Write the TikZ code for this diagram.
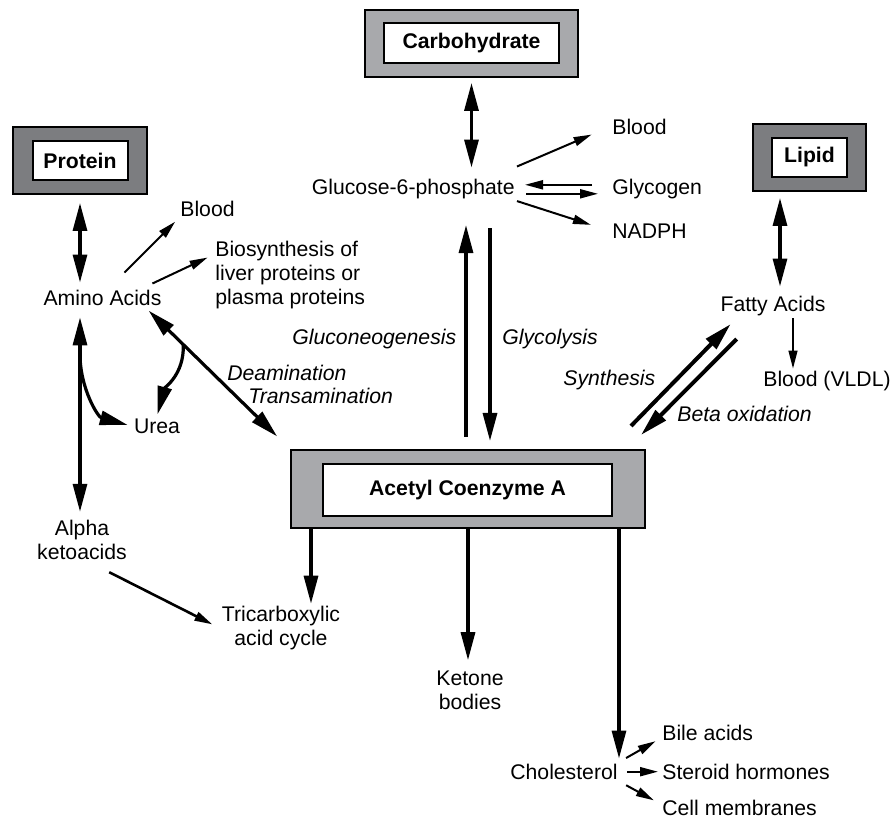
\documentclass[tikz,border=0pt]{standalone}
\usepackage{fontspec}
\setmainfont{Liberation Sans}
\usetikzlibrary{arrows.meta,positioning}

\definecolor{darkshade}{HTML}{7C7D80}
\definecolor{lightshade}{HTML}{A8A9AC}

\begin{document}
\begin{tikzpicture}[
    x=0.5pt, y=-0.5pt,
    lbl/.style={inner sep=1pt, font=\fontsize{10.6}{12}\selectfont},
    via/.style={inner sep=1pt, font=\fontsize{10.6}{12}\selectfont\itshape},
    outerbox/.style={draw, line width=1pt, inner sep=0pt},
    innerbox/.style={draw, fill=white, line width=1pt, inner sep=0pt,
      font=\fontsize{10.6}{12}\selectfont\bfseries},
    thickarrow/.style={line width=1.6pt, -{Triangle[length=14pt,width=7pt]}},
    twoway/.style={line width=1.6pt,
      {Triangle[length=14pt,width=7pt]}-{Triangle[length=14pt,width=7pt]}},
    thinarrow/.style={line width=1pt, -{Triangle[length=9pt,width=4.5pt]}}
  ]
  \useasboundingbox (0,0) rectangle (891,822);

  % framed boxes
  \node[outerbox, fill=lightshade, minimum width=106.5pt, minimum height=33.5pt] (carb) at (471.5,43.5) {};
  \node[innerbox, minimum width=87.5pt, minimum height=20pt] (carbin) at (carb) {Carbohydrate};
  \node[outerbox, fill=darkshade, minimum width=67pt, minimum height=33.5pt] (protein) at (80,160.5) {};
  \node[innerbox, minimum width=47.5pt, minimum height=19.5pt] (proteinin) at (protein) {Protein};
  \node[outerbox, fill=darkshade, minimum width=56.5pt, minimum height=33.5pt] (lipid) at (809.5,157.5) {};
  \node[innerbox, minimum width=37.5pt, minimum height=19.5pt] (lipidin) at (lipid) {Lipid};
  \node[outerbox, fill=lightshade, minimum width=177pt, minimum height=39pt] (acetyl) at (468,489) {};
  \node[innerbox, minimum width=144.5pt, minimum height=26pt] (acetylin) at (467.5,490) {Acetyl Coenzyme A};

  % metabolites
  \node[lbl, anchor=mid east] (g6p) at (517,189) {Glucose-6-phosphate};
  \node[lbl, anchor=mid west] (bloodc) at (610,129) {Blood};
  \node[lbl, anchor=mid west] (glycogen) at (610,189) {Glycogen};
  \node[lbl, anchor=mid west] (nadph) at (610,233) {NADPH};
  \node[lbl, anchor=mid] (amino) at (102.5,300) {Amino Acids};
  \node[lbl, anchor=mid west] (bloodp) at (178,211) {Blood};
  \node[lbl, anchor=west, align=left] (biosyn) at (213,275) {Biosynthesis of\\liver proteins or\\plasma proteins};
  \node[lbl, anchor=mid] (urea) at (157,428) {Urea};
  \node[lbl, align=center] (alpha) at (82,540) {Alpha\\ketoacids};
  \node[lbl, align=center] (tca) at (281,628) {Tricarboxylic\\acid cycle};
  \node[lbl, align=center] (ketone) at (470,690) {Ketone\\bodies};
  \node[lbl, anchor=mid east] (chol) at (620,774) {Cholesterol};
  \node[lbl, anchor=mid west] (bile) at (660,735) {Bile acids};
  \node[lbl, anchor=mid west] (steroid) at (660,774) {Steroid hormones};
  \node[lbl, anchor=mid west] (cellm) at (660,810) {Cell membranes};
  \node[lbl, anchor=mid] (fatty) at (773,306) {Fatty Acids};
  \node[lbl, anchor=mid west] (vldl) at (761,381) {Blood (VLDL)};

  % pathway names
  \node[via, anchor=mid west] (gng) at (290,339) {Gluconeogenesis};
  \node[via, anchor=mid west] (glyc) at (500,339) {Glycolysis};
  \node[via, anchor=mid west] (deam) at (225,375) {Deamination};
  \node[via, anchor=mid west] (transam) at (246,398) {Transamination};
  \node[via, anchor=mid west] (synth) at (561,380) {Synthesis};
  \node[via, anchor=mid west] (beta) at (675,416) {Beta oxidation};

  % carbohydrate side
  \draw[twoway, shorten <=2.5pt, shorten >=4.5pt] (carb.south) -- (carb.south |- g6p.north);
  \node[coordinate, yshift=5pt] (g6pne) at (g6p.north east) {};
  \node[coordinate, yshift=2pt] (g6pin) at (g6p.east) {};
  \node[coordinate, yshift=-2.5pt] (g6pout) at (g6p.east) {};
  \node[coordinate, yshift=2pt] (glyout) at (glycogen.west) {};
  \node[coordinate, yshift=-2.5pt] (glyin) at (glycogen.west) {};
  \draw[thinarrow, shorten >=10pt] (g6pne) -- (bloodc.west);
  \draw[thinarrow, shorten <=9pt, shorten >=4pt] (glyout) -- (g6pin);
  \draw[thinarrow, shorten <=4.5pt, shorten >=6pt] (g6pout) -- (glyin);
  \draw[thinarrow, shorten >=10pt] (g6p.south east) -- (nadph.west);
  \node[coordinate, xshift=-1pt] (gngfoot) at (acetyl.north) {};
  \node[coordinate, xshift=11pt] (glycfoot) at (acetyl.north) {};
  \draw[thickarrow, shorten <=6pt, shorten >=12pt] (gngfoot) -- (gngfoot |- g6p.south);
  \draw[thickarrow, shorten <=13.5pt, shorten >=4pt] (glycfoot |- g6p.south) -- (glycfoot);

  % protein side
  \draw[twoway, shorten <=4pt, shorten >=2.5pt] (protein.south) -- (protein.south |- amino.north);
  \draw[twoway, shorten <=4.75pt, shorten >=3pt] (protein.south |- amino.south)
    -- coordinate[pos=0.22] (leftsplit) (protein.south |- alpha.north);
  \node[coordinate, xshift=11pt, yshift=7.5pt] (aminotop) at (amino.north) {};
  \node[coordinate, xshift=-5.7pt, yshift=2pt] (aminone) at (amino.north east) {};
  \node[coordinate, yshift=10pt] (biosynin) at (biosyn.west) {};
  \draw[thinarrow, shorten >=2pt] (aminotop) -- (bloodp.south west);
  \draw[thinarrow, shorten >=3pt] (aminone) -- (biosynin);
  \node[coordinate, xshift=-9pt] (aminose) at (amino.south east) {};
  \draw[twoway, shorten <=2pt, shorten >=9pt] (aminose)
    -- coordinate[pos=0.26] (rightsplit) (acetyl.north west);
  \draw[thickarrow, shorten >=1pt] (rightsplit) to[out=-88, in=75] (urea.north);
  \draw[thickarrow, shorten >=2pt] (leftsplit) to[out=-90, in=165] (urea.west);
  \node[coordinate, xshift=-10pt, yshift=-5pt] (alphafoot) at (alpha.south east) {};
  \draw[thinarrow, line width=1.3pt, shorten >=4pt] (alphafoot) -- (tca.west);

  % out of acetyl CoA
  \node[coordinate, xshift=10.5pt] (tcatop) at (acetyl.south west) {};
  \node[coordinate, xshift=-13.5pt] (choltop) at (acetyl.south east) {};
  \draw[thickarrow] (tcatop) -- (tcatop |- tca.north);
  \draw[thickarrow, shorten >=4pt] (acetyl.south) -- (acetyl.south |- ketone.north);
  \draw[thickarrow, shorten >=1.5pt] (choltop) -- (choltop |- chol.north);
  \draw[thinarrow, shorten <=3.5pt, shorten >=2.5pt] (chol.north east) -- ([yshift=-3pt]bile.west);
  \draw[thinarrow, shorten <=3.5pt, shorten >=1pt] (chol.east) -- (steroid.west);
  \draw[thinarrow, shorten <=3.5pt, shorten >=3.5pt] (chol.south east) -- ([yshift=2pt]cellm.west);

  % lipid side
  \node[coordinate, xshift=-14.75pt] (lipidfoot) at (lipid.south) {};
  \node[coordinate, xshift=10pt] (fattyfoot) at (fatty.south) {};
  \draw[twoway, shorten <=3pt, shorten >=3.5pt] (lipidfoot) -- (lipidfoot |- fatty.north);
  \draw[thinarrow, line width=0.7pt] (fattyfoot) -- (fattyfoot |- vldl.north);
  \node[coordinate, xshift=-7.5pt, yshift=11.5pt] (synthfoot) at (acetyl.north east) {};
  \node[coordinate, xshift=6.25pt, yshift=-3pt] (synthtip) at (fatty.south west) {};
  \node[coordinate, xshift=9.25pt, yshift=-10.5pt] (betafoot) at (fatty.south west) {};
  \node[coordinate, xshift=-2.5pt, yshift=7pt] (betatip) at (acetyl.north east) {};
  \draw[thickarrow, line width=2pt] (synthfoot) -- (synthtip);
  \draw[thickarrow, line width=2pt] (betafoot) -- (betatip);
\end{tikzpicture}
\end{document}
